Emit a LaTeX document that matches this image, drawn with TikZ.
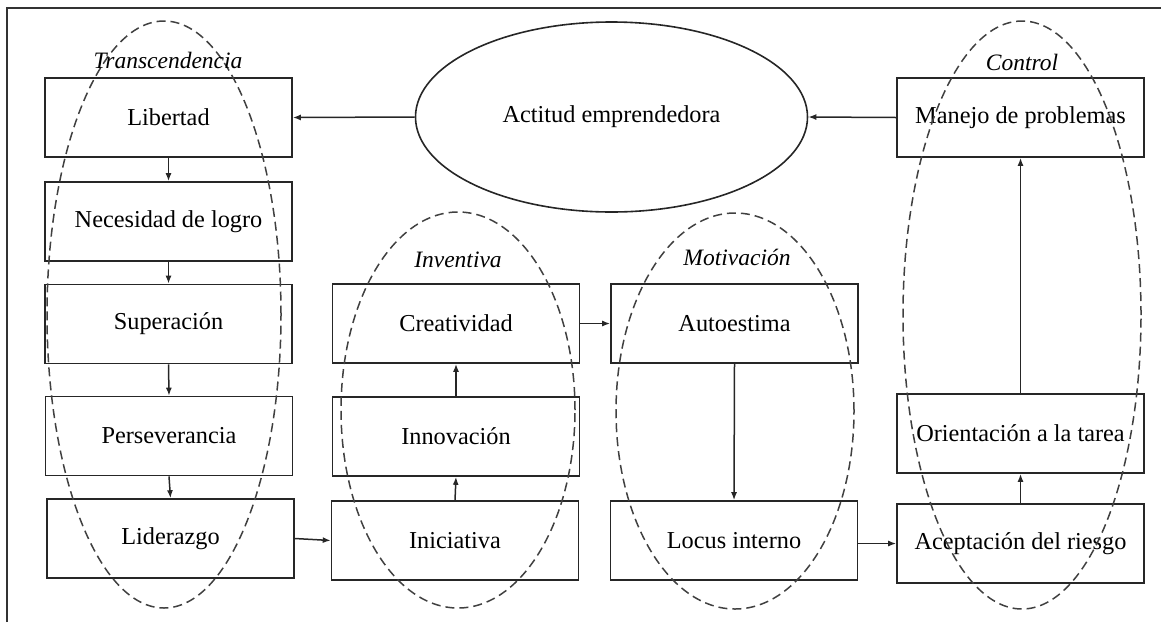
\documentclass[tikz,border=0pt]{standalone}
\usepackage{fontspec}
\setmainfont{Liberation Serif}
\usetikzlibrary{shapes.geometric,arrows.meta}
\begin{document}
\begin{tikzpicture}[x=1pt,y=-1pt,
  every node/.style={font=\fontsize{24.3}{29}\selectfont},
  box/.style={draw=black!85, line width=1.6pt, minimum width=247pt, minimum height=79pt, inner sep=0pt},
  grp/.style={draw=black!75, ellipse, line width=1.5pt, dash pattern=on 9pt off 5pt, inner sep=0pt},
  glabel/.style={font=\fontsize{23.5}{28}\selectfont\itshape, inner sep=0pt},
  arr/.style={line width=1.5pt, draw=black!85, -{Latex[length=8pt,width=6pt]}}
]
\useasboundingbox (0,0) rectangle (1161,622);
\draw[line width=1.8pt, black!80] (7,622) -- (7,8) -- (1161,8);

% boxes
\node[box] (lib) at (168.5,117.5) {Libertad};
\node[box] (nec) at (168.5,221.5) {Necesidad de logro};
\node[box] (sup) at (168.5,324) {Superación};
\node[box] (per) at (169,436) {Perseverancia};
\node[box] (lid) at (170.5,538.5) {Liderazgo};
\node[box] (cre) at (456,323.5) {Creatividad};
\node[box] (inn) at (456,436.5) {Innovación};
\node[box] (ini) at (455,540.5) {Iniciativa};
\node[box] (aut) at (734.5,323.5) {Autoestima};
\node[box] (loc) at (734,540.5) {Locus interno};
\node[box] (man) at (1020.5,117.5) {Manejo de problemas};
\node[box] (ori) at (1020.5,433.5) {Orientación a la tarea};
\node[box] (ace) at (1020.5,543.5) {Aceptación del riesgo};
\node[draw=black!85, line width=1.6pt, ellipse, minimum width=392pt, minimum height=190pt, inner sep=0pt] (act) at (611.5,117) {Actitud emprendedora};

% group ellipses
\node[grp, minimum width=234pt, minimum height=587pt] (gT) at (164,314.5) {};
\node[grp, minimum width=234pt, minimum height=396pt] (gI) at (458,410) {};
\node[grp, minimum width=238pt, minimum height=396pt] (gM) at (735,411) {};
\node[grp, minimum width=238pt, minimum height=588pt] (gC) at (1022,315) {};

\node[glabel] (lT) at (168,60) {Transcendencia};
\node[glabel] (lI) at (458,260) {Inventiva};
\node[glabel] (lM) at (737,257) {Motivación};
\node[glabel] (lC) at (1022,62) {Control};

% connectors
\draw[arr] (act.west) -- (lib.east);
\draw[arr] (man.west) -- (act.east);
\draw[arr] (lib.south) -- (nec.north);
\draw[arr] (nec.south) -- (sup.north);
\draw[arr] (sup.south) -- (per.north);
\draw[arr] (per.south) -- (lid.north);
\draw[arr] (lid.east) -- (ini.west);
\draw[arr] (ini.north) -- (inn.south);
\draw[arr] (inn.north) -- (cre.south);
\draw[arr] (cre.east) -- (aut.west);
\draw[arr] (aut.south) -- (loc.north);
\draw[arr] (loc.east |- ace.west) -- (ace.west);
\draw[arr] (ace.north) -- (ori.south);
\draw[arr] (ori.north) -- (man.south);
\end{tikzpicture}
\end{document}
